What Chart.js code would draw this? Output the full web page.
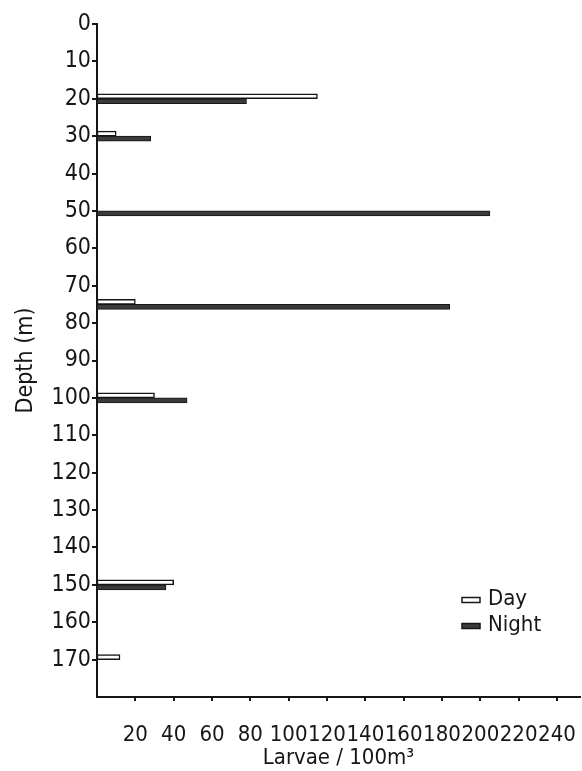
<!DOCTYPE html>
<html lang="en">
	<head>
		<meta charset="utf-8">
		<title>Larvae by depth</title>
		<script src="https://cdn.jsdelivr.net/npm/chart.js"></script>
		<style>
			html, body { margin: 0; padding: 0; background: #fff; }
			#wrap { width: 582px; height: 771px; position: relative; }
		</style>
	</head>
	<body>
		<div id="wrap"><canvas id="chart"></canvas></div>
		<script>
			// depths sampled (m) and larvae per 100 m3
			const depths = [20, 30, 50, 75, 100, 150, 170]
			const dayValues = [115, 10, null, 20, 30, 40, 12]
			const nightValues = [78, 28, 205, 184, 47, 36, null]
			const depthTicks = [0, 10, 20, 30, 40, 50, 60, 70, 80, 90, 100, 110, 120, 130, 140, 150, 160, 170]
			const larvaeTicks = [20, 40, 60, 80, 100, 120, 140, 160, 180, 200, 220, 240]

			const ink = "#161616"
			const font = "'DejaVu Sans Condensed', 'DejaVu Sans', sans-serif"

			const legendInside = {
				id: "legendInside",
				afterDraw(chart) {
					const ctx = chart.ctx
					const area = chart.chartArea
					const x = area.right - 118
					let y = area.bottom - 97
					chart.data.datasets.forEach(ds => {
						ctx.save()
						ctx.fillStyle = ds.backgroundColor
						ctx.strokeStyle = ink
						ctx.lineWidth = 1.5
						ctx.fillRect(x, y - 2.5, 18, 5)
						ctx.strokeRect(x, y - 2.5, 18, 5)
						ctx.fillStyle = ink
						ctx.font = "22px " + font
						ctx.textBaseline = "middle"
						ctx.fillText(ds.label, x + 26, y - 1)
						ctx.restore()
						y += 26
					})
				}
			}

			new Chart(document.getElementById("chart").getContext("2d"), {
				type: "bar",
				data: {
					datasets: [{
						label: "Day",
						data: depths.map((d, i) => ({y: d, x: dayValues[i]})),
						backgroundColor: "#ffffff",
						borderColor: ink,
						borderWidth: 1.5,
						borderSkipped: false,
						barThickness: 5
					}, {
						label: "Night",
						data: depths.map((d, i) => ({y: d, x: nightValues[i]})),
						backgroundColor: "#3a3a3a",
						borderColor: ink,
						borderWidth: 1,
						borderSkipped: false,
						barThickness: 5
					}]
				},
				options: {
					indexAxis: "y",
					responsive: true,
					maintainAspectRatio: false,
					animation: false,
					layout: {
						padding: {top: 24, right: 2, left: 12, bottom: 0}
					},
					scales: {
						y: {
							type: "linear",
							reverse: true,
							min: 0,
							max: 180,
							offset: false,
							afterBuildTicks: scale => { scale.ticks = depthTicks.map(v => ({value: v})) },
							afterFit: scale => { scale.width = 85 },
							border: {color: ink, width: 2},
							grid: {offset: false, drawOnChartArea: false, color: ink, tickLength: 5, lineWidth: 2},
							ticks: {color: ink, font: {family: font, size: 23}, padding: 1},
							title: {display: true, text: "Depth (m)", color: ink, font: {family: font, size: 23}, padding: 0}
						},
						x: {
							type: "linear",
							min: 0,
							max: 252,
							offset: false,
							afterBuildTicks: scale => { scale.ticks = larvaeTicks.map(v => ({value: v})) },
							afterFit: scale => { scale.height = 74; scale.paddingRight = 0 },
							border: {color: ink, width: 2},
							grid: {drawOnChartArea: false, color: ink, tickLength: 4, lineWidth: 2},
							ticks: {color: ink, font: {family: font, size: 22}, padding: 21, maxRotation: 0, autoSkip: false},
							title: {display: true, text: "Larvae / 100m³", color: ink, font: {family: font, size: 22}, padding: 0}
						}
					},
					plugins: {
						legend: {display: false},
						tooltip: {enabled: false}
					}
				},
				plugins: [legendInside]
			})
		</script>
	</body>
</html>
